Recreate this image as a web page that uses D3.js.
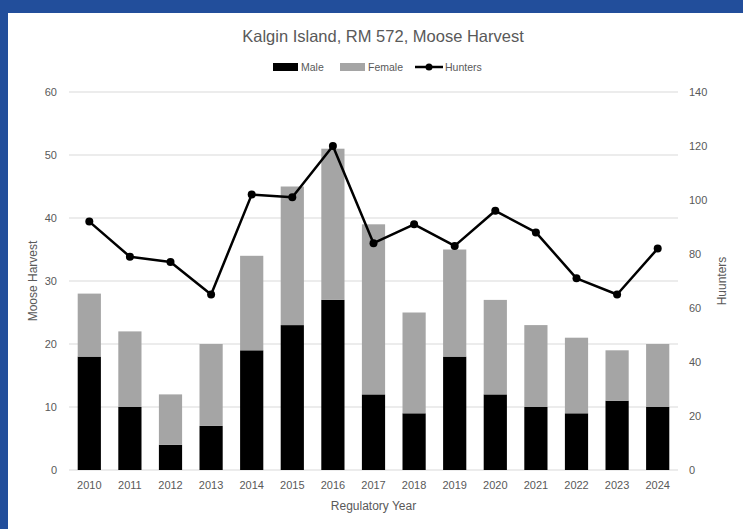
<!DOCTYPE html>
<html>
<head>
<meta charset="utf-8">
<script src="https://cdn.jsdelivr.net/npm/d3@7"></script>
<style>
  html, body { margin: 0; padding: 0; background: #ffffff; }
  text { font-family: "Liberation Sans", Arial, sans-serif; fill: #595959; }
</style>
</head>
<body>
<div id="chart"></div>
<script>
// Data
const years = ["2010", "2011", "2012", "2013", "2014", "2015", "2016", "2017", "2018", "2019", "2020", "2021", "2022", "2023", "2024"];
const male = [18, 10, 4, 7, 19, 23, 27, 12, 9, 18, 12, 10, 9, 11, 10];
const female = [10, 12, 8, 13, 15, 22, 24, 27, 16, 17, 15, 13, 12, 8, 10];
const hunters = [92, 79, 77, 65, 102, 101, 120, 84, 91, 83, 96, 88, 71, 65, 82];
const leftTicks = [0, 10, 20, 30, 40, 50, 60];
const rightTicks = [0, 20, 40, 60, 80, 100, 120, 140];

const W = 743, H = 529;
const margin = { top: 92, right: 65, bottom: 59, left: 69 };
const width = W - margin.left - margin.right;
const height = H - margin.top - margin.bottom;

const svg = d3.select("#chart").append("svg")
    .attr("width", W)
    .attr("height", H);

// blue frame
svg.append("rect").attr("x", 0).attr("y", 0).attr("width", W).attr("height", H).attr("fill", "#224e9b");
svg.append("rect").attr("x", 8).attr("y", 13).attr("width", W - 8).attr("height", H - 13).attr("fill", "#ffffff");

const g = svg.append("g")
    .attr("transform", `translate(${margin.left},${margin.top})`);

// Scales
const x = d3.scaleBand()
    .domain(years)
    .range([0, width])
    .paddingInner(0.75 / 1.75)
    .paddingOuter(0.375 / 1.75);

const xPoint = d => x(d) + x.bandwidth() / 2;

const y = d3.scaleLinear().domain([0, 60]).range([height, 0]);
const y2 = d3.scaleLinear().domain([0, 140]).range([height, 0]);

// Gridlines
g.selectAll(".grid")
    .data(leftTicks)
    .enter().append("line")
    .attr("x1", 0)
    .attr("x2", width)
    .attr("y1", d => y(d))
    .attr("y2", d => y(d))
    .attr("stroke", "#d9d9d9")
    .attr("stroke-width", 1);

// Left axis
const yAxis = g.append("g")
    .attr("color", "#595959")
    .call(d3.axisLeft(y).tickValues(leftTicks).tickSize(0).tickPadding(12));
yAxis.select(".domain").remove();
yAxis.selectAll("text").style("font-size", "11px").style("fill", "#595959");

// Right axis
const y2Axis = g.append("g")
    .attr("color", "#595959")
    .attr("transform", `translate(${width},0)`)
    .call(d3.axisRight(y2).tickValues(rightTicks).tickSize(0).tickPadding(11));
y2Axis.select(".domain").remove();
y2Axis.selectAll("text").style("font-size", "11px").style("fill", "#595959");

// Bottom axis
const xAxis = g.append("g")
    .attr("color", "#595959")
    .attr("transform", `translate(0,${height})`)
    .call(d3.axisBottom(x).tickSize(0).tickPadding(11));
xAxis.select(".domain").remove();
xAxis.selectAll("text").style("font-size", "11px").style("fill", "#595959");

// Stacked bars
const rows = years.map((yr, i) => ({ year: yr, male: male[i], female: female[i] }));
const stacked = d3.stack().keys(["male", "female"])(rows);
const colors = { male: "#000000", female: "#a5a5a5" };

g.selectAll(".series")
    .data(stacked)
    .enter().append("g")
    .attr("fill", d => colors[d.key])
    .selectAll("rect")
    .data(d => d)
    .enter().append("rect")
    .attr("x", d => x(d.data.year))
    .attr("y", d => y(d[1]))
    .attr("width", x.bandwidth())
    .attr("height", d => y(d[0]) - y(d[1]));

// Hunters line
const line = d3.line()
    .x((d, i) => xPoint(years[i]))
    .y(d => y2(d));

g.append("path")
    .datum(hunters)
    .attr("fill", "none")
    .attr("stroke", "#000000")
    .attr("stroke-width", 2.5)
    .attr("stroke-linejoin", "round")
    .attr("d", line);

g.selectAll(".dot")
    .data(hunters)
    .enter().append("circle")
    .attr("cx", (d, i) => xPoint(years[i]))
    .attr("cy", d => y2(d))
    .attr("r", 4)
    .attr("fill", "#000000");

// Title
svg.append("text")
    .attr("x", 383)
    .attr("y", 42)
    .attr("text-anchor", "middle")
    .style("font-size", "16.5px")
    .text("Kalgin Island, RM 572, Moose Harvest");

// Axis titles
svg.append("text")
    .attr("x", margin.left + width / 2)
    .attr("y", 510)
    .attr("text-anchor", "middle")
    .style("font-size", "12px")
    .text("Regulatory Year");

svg.append("text")
    .attr("transform", `translate(37,${margin.top + height / 2}) rotate(-90)`)
    .attr("text-anchor", "middle")
    .style("font-size", "12px")
    .text("Moose Harvest");

svg.append("text")
    .attr("transform", `translate(726,${margin.top + height / 2}) rotate(-90)`)
    .attr("text-anchor", "middle")
    .style("font-size", "12px")
    .text("Huunters");

// Legend
const legend = svg.append("g").attr("transform", "translate(0,67)");
legend.append("rect").attr("x", 273).attr("y", -4).attr("width", 25).attr("height", 8).attr("fill", colors.male);
legend.append("text").attr("x", 301).attr("y", 4).style("font-size", "10.5px").text("Male");
legend.append("rect").attr("x", 340).attr("y", -4).attr("width", 25).attr("height", 8).attr("fill", colors.female);
legend.append("text").attr("x", 368).attr("y", 4).style("font-size", "10.5px").text("Female");
legend.append("line").attr("x1", 415).attr("x2", 443).attr("y1", 0).attr("y2", 0).attr("stroke", "#000").attr("stroke-width", 2.5);
legend.append("circle").attr("cx", 429).attr("cy", 0).attr("r", 3.5).attr("fill", "#000");
legend.append("text").attr("x", 445).attr("y", 4).style("font-size", "10.5px").text("Hunters");
</script>
</body>
</html>
